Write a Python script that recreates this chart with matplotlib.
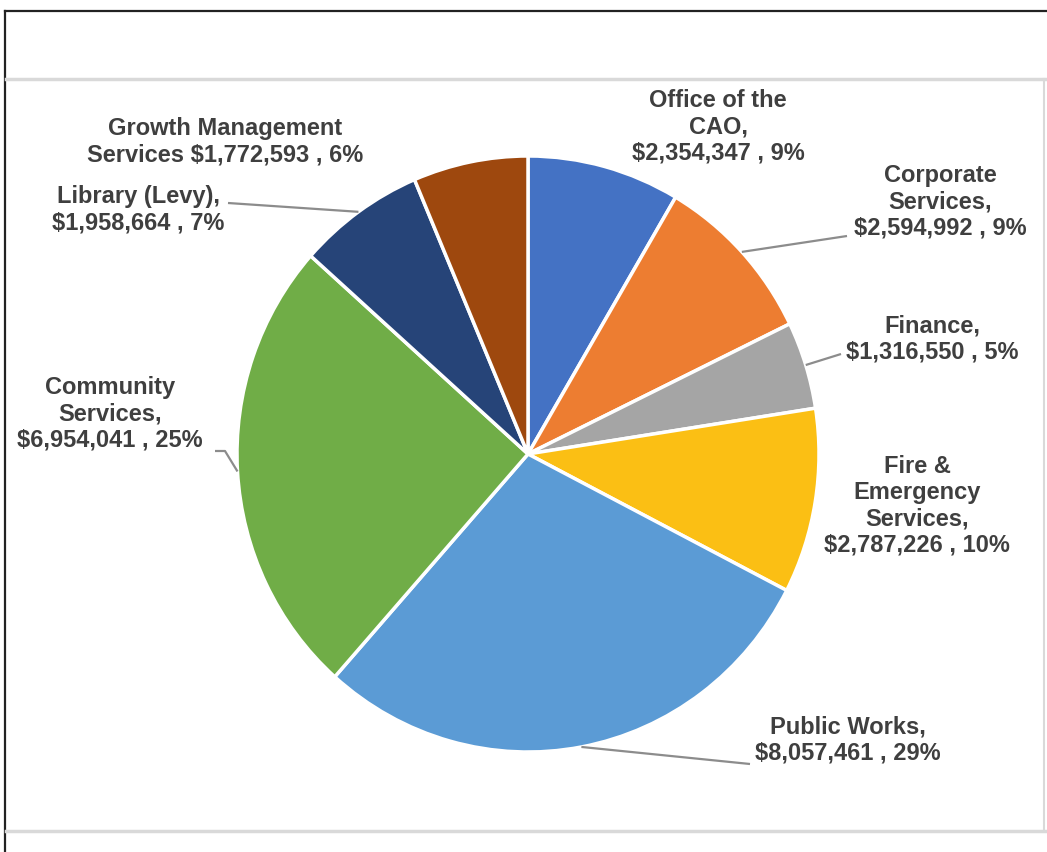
import matplotlib
matplotlib.use("Agg")
import matplotlib.pyplot as plt
import numpy as np
from matplotlib.lines import Line2D

# Datos
departments = [
    "Office of the\nCAO,",
    "Corporate\nServices,",
    "Finance,",
    "Fire &\nEmergency\nServices,",
    "Public Works,",
    "Community\nServices,",
    "Library (Levy),",
    "Growth Management\nServices",
]
budgets = [2354347, 2594992, 1316550, 2787226, 8057461, 6954041, 1958664, 1772593]
percent_labels = ["9%", "9%", "5%", "10%", "29%", "25%", "7%", "6%"]
colors = ["#4472C4", "#ED7D31", "#A5A5A5", "#FBBF14", "#5B9BD5", "#70AD47", "#264478", "#9E480E"]

# Layout (pixels of the 1047x852 picture)
W, H = 1047, 852
CX, CY, RX, RY = 528, 454, 291, 298
label_pos = [(718, 127), (940, 202), (932, 339), (917, 506),
             (848, 740), (110, 414), (138, 210), (225, 142)]
# leader anchors at the label side (None = no leader)
leader_pts = [None, [(847, 236)], [(841, 354)], None,
              [(750, 764)], [(215, 451), (225, 451)], [(228, 203)], None]


def to_data(px, py):
    return (px - CX) / RX, (CY - py) / RY


fig = plt.figure(figsize=(W / 100, H / 100), dpi=100)
ax = fig.add_axes([0, 0, 1, 1])

wedges, _ = ax.pie(budgets, colors=colors, startangle=90, counterclock=False,
                   radius=1, wedgeprops=dict(edgecolor="white", linewidth=2.5))
ax.set_aspect("auto")
x0, y1 = to_data(0, 0)
x1, y0 = to_data(W, H)
ax.set_xlim(x0, x1)
ax.set_ylim(y0, y1)
ax.axis("off")

text_color = "#3F3F3F"
for i, w in enumerate(wedges):
    txt = f"{departments[i]}\n${budgets[i]:,} , {percent_labels[i]}"
    if i == 7:
        txt = f"{departments[i]} ${budgets[i]:,} , {percent_labels[i]}"
    lx, ly = to_data(*label_pos[i])
    ax.text(lx, ly, txt, ha="center", va="center", fontsize=17,
            fontweight="bold", color=text_color, family="Liberation Sans",
            linespacing=1.17)
    if leader_pts[i] is not None:
        mid = np.deg2rad((w.theta1 + w.theta2) / 2)
        ex, ey = np.cos(mid), np.sin(mid)
        pts = [to_data(*p) for p in leader_pts[i]] + [(ex, ey)]
        xs, ys = zip(*pts)
        ax.plot(xs, ys, color="#8C8C8C", linewidth=1.6, solid_capstyle="butt")

# Marco
def fx(px):
    return px / W


def fy(py):
    return 1 - py / H


fig.add_artist(Line2D([fx(5), fx(5)], [fy(11), fy(852)], color="#222222", linewidth=1.6))
fig.add_artist(Line2D([fx(5), fx(1047)], [fy(11), fy(11)], color="#222222", linewidth=1.6))
fig.add_artist(Line2D([fx(6), fx(1047)], [fy(79), fy(79)], color="#D9D9D9", linewidth=2.5))
fig.add_artist(Line2D([fx(6), fx(1047)], [fy(831), fy(831)], color="#D9D9D9", linewidth=2.5))
fig.add_artist(Line2D([fx(1044), fx(1044)], [fy(79), fy(831)], color="#D9D9D9", linewidth=1.5))

plt.savefig("out.png", dpi=100)
plt.close()
